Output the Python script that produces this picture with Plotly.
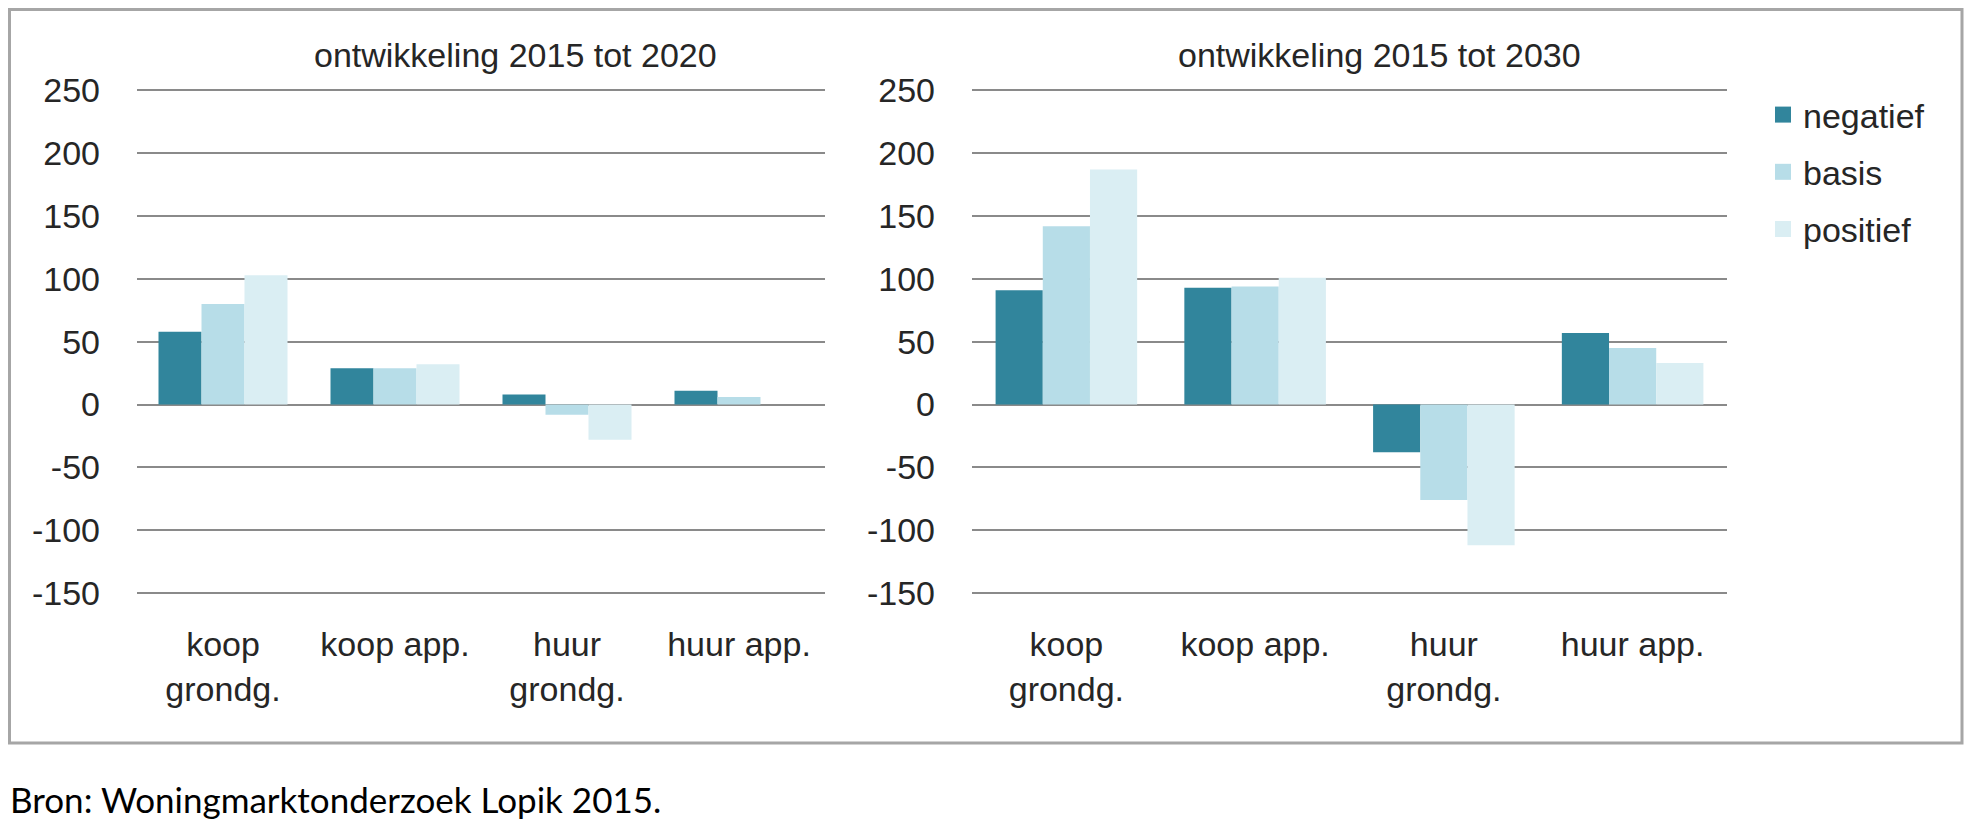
import plotly.graph_objects as go

W, H = 1982, 828
OFF = 8  # page body margin offset

categories = ["koop<br>grondg.", "koop app.", "huur<br>grondg.", "huur app."]
series_names = ["negatief", "basis", "positief"]
series_colors = ["#31859C", "#B7DDE8", "#DAEEF3"]

# ontwikkeling 2015 tot 2020
negatief_2020 = [58, 29, 8, 11]
basis_2020 = [80, 29, -8, 6]
positief_2020 = [103, 32, -28, 0]

# ontwikkeling 2015 tot 2030
negatief_2030 = [91, 93, -38, 57]
basis_2030 = [142, 94, -76, 45]
positief_2030 = [187, 101, -112, 33]

title_left = "ontwikkeling 2015 tot 2020"
title_right = "ontwikkeling 2015 tot 2030"
source_text = "Bron: Woningmarktonderzoek Lopik 2015."

y_ticks = [-150, -100, -50, 0, 50, 100, 150, 200, 250]
y_ticktext = ["-150", "-100", "-50", "0", "50", "100", "150", "200", "250"]

FONT = "Liberation Sans, Arial, sans-serif"
FS = 34
TXT = "#262626"
GRID = "#8a8a8a"

fig = go.Figure()
left = [negatief_2020, basis_2020, positief_2020]
right = [negatief_2030, basis_2030, positief_2030]
for i, name in enumerate(series_names):
    fig.add_trace(go.Bar(x=categories, y=left[i], name=name, marker_color=series_colors[i],
                         marker_line_width=0, xaxis="x", yaxis="y", showlegend=False,
                         legendgroup=name))
for i, name in enumerate(series_names):
    fig.add_trace(go.Bar(x=categories, y=right[i], name=name, marker_color=series_colors[i],
                         marker_line_width=0, xaxis="x2", yaxis="y2", showlegend=False,
                         legendgroup=name))
# legend entries (square swatches)
for i, name in enumerate(series_names):
    fig.add_trace(go.Scatter(x=[None], y=[None], name=name, mode="markers",
                             marker=dict(symbol="square", size=22, color=series_colors[i]),
                             xaxis="x2", yaxis="y2", showlegend=True, legendgroup=name))

def px_x(p):
    return max(p - OFF, 0) / W

def px_y(p):
    return 1 - max(p - OFF, 0) / H

ydom = [px_y(594.3), px_y(89.2)]
xcommon = dict(type="category", showgrid=False, zeroline=False, showline=False, ticks="",
               automargin=False,
               tickfont=dict(family=FONT, size=FS, color=TXT), ticklabelstandoff=27)
ycommon = dict(range=[-151, 251], tickvals=y_ticks, ticktext=y_ticktext,
               showgrid=True, gridcolor=GRID, gridwidth=2, automargin=False,
               zeroline=False, showline=False, ticks="",
               tickfont=dict(family=FONT, size=FS, color=TXT), ticklabelstandoff=36)

fig.update_layout(
    width=W, height=H,
    margin=dict(l=0, r=0, t=0, b=0, autoexpand=False),
    paper_bgcolor="white", plot_bgcolor="white",
    barmode="group", bargap=0.25, bargroupgap=0,
    xaxis=dict(domain=[px_x(137), px_x(825)], anchor="y", **xcommon),
    yaxis=dict(domain=ydom, anchor="x", **ycommon),
    xaxis2=dict(domain=[px_x(972), px_x(1727)], anchor="y2", **xcommon),
    yaxis2=dict(domain=ydom, anchor="x2", **ycommon),
    legend=dict(x=px_x(1763), y=px_y(86), xanchor="left", yanchor="top",
                font=dict(family=FONT, size=FS, color=TXT), bgcolor="rgba(0,0,0,0)",
                tracegroupgap=10, itemclick=False, itemdoubleclick=False),
    font=dict(family=FONT, color=TXT),
    hovermode=False,
)

fig.add_annotation(text=title_left, xref="paper", yref="paper", x=px_x(515), y=px_y(55),
                   xanchor="center", yanchor="middle", showarrow=False,
                   font=dict(family=FONT, size=FS, color=TXT))
fig.add_annotation(text=title_right, xref="paper", yref="paper", x=px_x(1379), y=px_y(55),
                   xanchor="center", yanchor="middle", showarrow=False,
                   font=dict(family=FONT, size=FS, color=TXT))
fig.add_annotation(text=source_text, xref="paper", yref="paper", x=0, y=px_y(799),
                   xanchor="left", yanchor="middle", showarrow=False,
                   font=dict(family="Lato, Carlito, Calibri, sans-serif", size=35, color="#000000"))

fig.add_shape(type="rect", xref="paper", yref="paper",
              x0=1.5 / W, x1=px_x(1962), y0=px_y(743), y1=1 - 1.5 / H,
              line=dict(color="#a6a6a6", width=3), fillcolor="rgba(0,0,0,0)", layer="below")

fig.write_html("out.html")
